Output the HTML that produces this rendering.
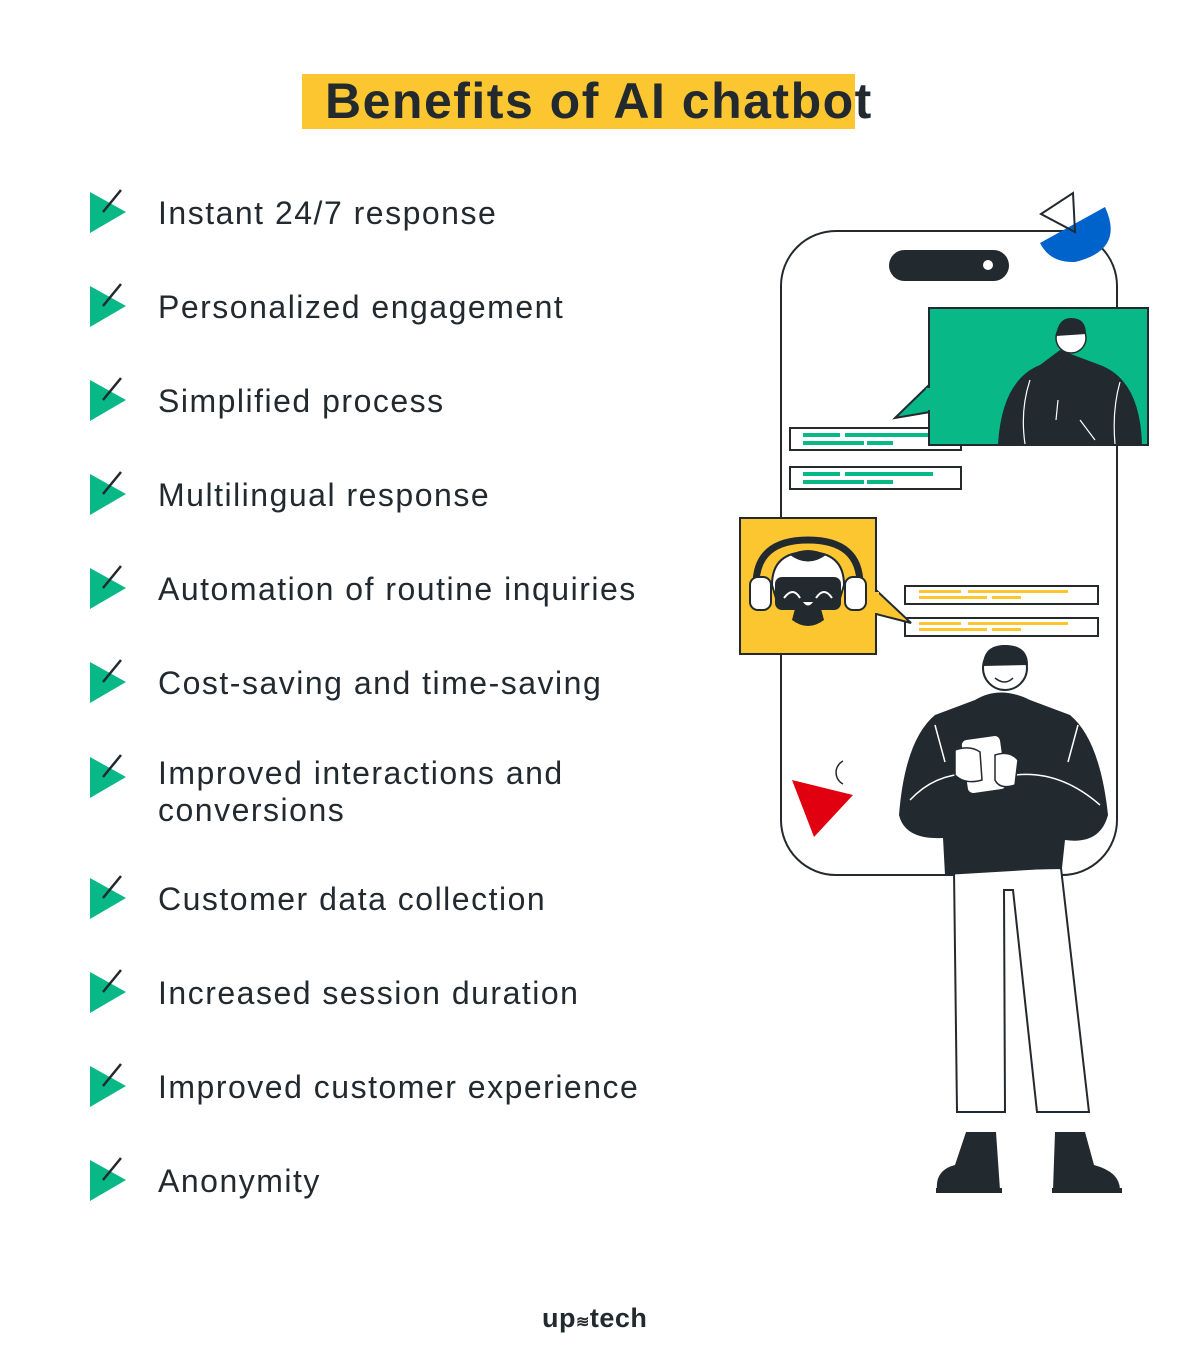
<!DOCTYPE html>
<html><head><meta charset="utf-8"><style>
html,body{margin:0;padding:0;background:#fff;}
body{width:1200px;height:1368px;position:relative;overflow:hidden;font-family:"Liberation Sans",sans-serif;color:#222a30;}
.title{position:absolute;left:302px;top:74px;width:553px;height:55px;background:#fbc630;}
.ttxt{position:absolute;left:325px;top:71px;font-size:50px;font-weight:bold;line-height:60px;letter-spacing:1.5px;white-space:nowrap;color:#222a30;}
.item{position:absolute;left:158px;font-size:32px;line-height:37px;letter-spacing:1.5px;white-space:nowrap;}
.logo{position:absolute;left:542px;top:1303px;font-size:27px;font-weight:bold;letter-spacing:0.5px;}
</style></head><body>
<div class="title"></div>
<div class="ttxt">Benefits of AI chatbot</div>
<svg width="1200" height="1368" style="position:absolute;left:0;top:0">
<defs><g id="chk"><polygon points="0,0 36,20 0,41" fill="#08b886"/><line x1="13" y1="20" x2="31" y2="-2" stroke="#222a30" stroke-width="2.5"/></g></defs>
<use href="#chk" x="90" y="192"/>
<use href="#chk" x="90" y="286"/>
<use href="#chk" x="90" y="380"/>
<use href="#chk" x="90" y="474"/>
<use href="#chk" x="90" y="568"/>
<use href="#chk" x="90" y="662"/>
<use href="#chk" x="90" y="757"/>
<use href="#chk" x="90" y="878"/>
<use href="#chk" x="90" y="972"/>
<use href="#chk" x="90" y="1066"/>
<use href="#chk" x="90" y="1160"/>

<rect x="781" y="231" width="336" height="644" rx="55" fill="#fff" stroke="#222a30" stroke-width="2"/>
<rect x="889" y="250" width="120" height="31" rx="15.5" fill="#222a30"/>
<circle cx="988" cy="265" r="5" fill="#fff"/>
<path d="M1040,243 L1105,207 Q1125,250 1075,262 Q1050,263 1040,243Z" fill="#0063cc"/>
<polygon points="1041,214 1073,193 1075,232" fill="none" stroke="#222a30" stroke-width="2"/>
<polygon points="792,780 853,795 814,837" fill="#e0000f"/>
<path d="M843,761 A13,13 0 0 0 843,784" fill="none" stroke="#222a30" stroke-width="1.5"/>
<rect x="790" y="428" width="171" height="22" fill="#fff" stroke="#222a30" stroke-width="2"/>
<rect x="790" y="467" width="171" height="22" fill="#fff" stroke="#222a30" stroke-width="2"/>
<g fill="#08b886"><rect x="803" y="433" width="37" height="4"/><rect x="845" y="433" width="88" height="4"/><rect x="803" y="441" width="61" height="4"/><rect x="867" y="441" width="26" height="4"/>
<rect x="803" y="472" width="37" height="4"/><rect x="845" y="472" width="88" height="4"/><rect x="803" y="480" width="61" height="4"/><rect x="867" y="480" width="26" height="4"/></g>
<polygon points="929,385 895,418 930,412" fill="#08b886" stroke="#222a30" stroke-width="2"/>
<rect x="929" y="308" width="219" height="137" fill="#08b886" stroke="#222a30" stroke-width="2"/>
<rect x="926" y="388" width="6" height="22" fill="#08b886"/>
<path d="M998,444 Q1002,380 1040,365 L1060,350 L1100,365 Q1140,380 1142,444Z" fill="#222a30"/>
<path d="M1030,380 Q1020,410 1025,444 M1120,382 Q1112,410 1115,444 M1058,400 L1056,420 M1080,420 L1095,440" fill="none" stroke="#fff" stroke-width="1.2"/>
<circle cx="1071" cy="338" r="15" fill="#fff" stroke="#222a30" stroke-width="1.5"/>
<path d="M1056,336 Q1058,318 1071,318 Q1086,318 1086,334 Z" fill="#222a30"/>
<rect x="905" y="586" width="193" height="18" fill="#fff" stroke="#222a30" stroke-width="2"/>
<rect x="905" y="618" width="193" height="18" fill="#fff" stroke="#222a30" stroke-width="2"/>
<g fill="#fbc630"><rect x="919" y="590" width="42" height="3"/><rect x="968" y="590" width="100" height="3"/><rect x="919" y="596" width="68" height="3"/><rect x="992" y="596" width="29" height="3"/>
<rect x="919" y="622" width="42" height="3"/><rect x="968" y="622" width="100" height="3"/><rect x="919" y="628" width="68" height="3"/><rect x="992" y="628" width="29" height="3"/></g>
<polygon points="876,590 911,623 876,614" fill="#fbc630" stroke="#222a30" stroke-width="2"/>
<rect x="740" y="518" width="136" height="136" fill="#fbc630" stroke="#222a30" stroke-width="2"/>
<rect x="873" y="592" width="6" height="21" fill="#fbc630"/>
<path d="M756,585 Q756,540 808,540 Q860,540 860,585" fill="none" stroke="#222a30" stroke-width="7"/>
<path d="M772,585 Q772,552 808,552 Q844,552 844,585 L838,605 L778,605Z" fill="#fff" stroke="#222a30" stroke-width="2"/>
<path d="M790,555 Q808,545 826,555 Q808,568 790,555Z" fill="#222a30"/>
<path d="M792,620 Q808,632 824,620 L820,605 L796,605Z" fill="#222a30"/>
<rect x="775" y="577" width="66" height="33" rx="7" fill="#222a30"/>
<path d="M784,598 Q793,586 800,598 M816,598 Q824,586 832,598" fill="none" stroke="#fff" stroke-width="2"/>
<path d="M803,602 L813,602 Q808,609 803,602Z" fill="#fff"/>
<rect x="750" y="577" width="21" height="33" rx="8" fill="#fff" stroke="#222a30" stroke-width="2"/>
<rect x="845" y="577" width="21" height="33" rx="8" fill="#fff" stroke="#222a30" stroke-width="2"/>
<path d="M954,870 L957,1112 L1005,1112 L1004,890 L1013,890 L1037,1112 L1089,1112 L1061,868Z" fill="#fff" stroke="#222a30" stroke-width="2"/>
<path d="M966,1132 L996,1132 L1000,1190 L937,1190 Q935,1170 955,1165 Z" fill="#222a30"/>
<path d="M1055,1132 L1085,1132 L1094,1165 Q1120,1172 1120,1190 L1053,1190Z" fill="#222a30"/>
<rect x="936" y="1188" width="66" height="5" fill="#222a30"/><rect x="1052" y="1188" width="70" height="5" fill="#222a30"/>
<path d="M945,875 L943,838 Q905,840 899,815 Q905,740 935,715 L975,700 Q1000,685 1030,700 L1070,715 Q1100,740 1108,815 Q1100,845 1065,840 L1062,868Z" fill="#222a30"/>
<path d="M910,800 Q940,768 985,775 M1100,805 Q1060,770 1015,775 M935,725 L945,762 M1078,725 L1068,762" fill="none" stroke="#fff" stroke-width="1.5"/>
<circle cx="1005" cy="668" r="22" fill="#fff" stroke="#222a30" stroke-width="2"/>
<path d="M983,666 Q983,645 1005,645 Q1028,645 1028,665 Z" fill="#222a30"/>
<path d="M995,678 Q1005,686 1013,678" fill="none" stroke="#222a30" stroke-width="1.5"/>
<rect x="964" y="737" width="40" height="55" rx="6" fill="#fff" stroke="#222a30" stroke-width="1.5" transform="rotate(-8 984 765)"/>
<path d="M955,750 Q970,745 980,752 L982,780 Q965,785 955,775Z M995,755 Q1010,750 1018,760 L1015,785 Q1000,790 995,780Z" fill="#fff" stroke="#222a30" stroke-width="1.5"/>
</svg>
<div class="item" style="top:195px">Instant 24/7 response</div>
<div class="item" style="top:289px">Personalized engagement</div>
<div class="item" style="top:383px">Simplified process</div>
<div class="item" style="top:477px">Multilingual response</div>
<div class="item" style="top:571px">Automation of routine inquiries</div>
<div class="item" style="top:665px">Cost-saving and time-saving</div>
<div class="item" style="top:755px">Improved interactions and<br>conversions</div>
<div class="item" style="top:881px">Customer data collection</div>
<div class="item" style="top:975px">Increased session duration</div>
<div class="item" style="top:1069px">Improved customer experience</div>
<div class="item" style="top:1163px">Anonymity</div>
<div class="logo">up<span style="font-size:16px">≋</span>tech</div>
</body></html>
